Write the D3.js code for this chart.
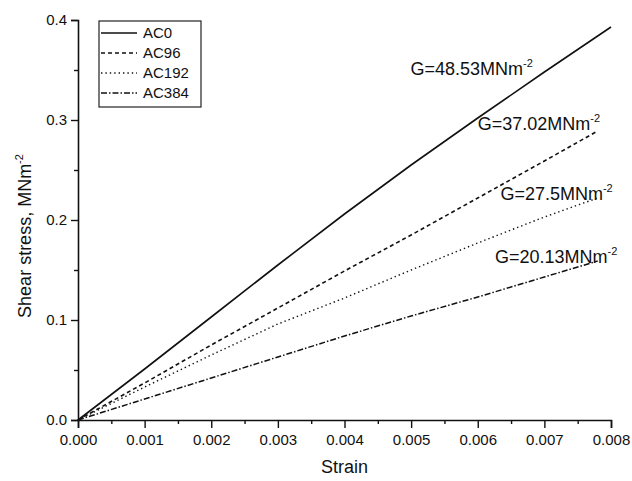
<!DOCTYPE html>
<html>
<head>
<meta charset="utf-8">
<script src="https://cdn.jsdelivr.net/npm/d3@7"></script>
<style>
  body { margin: 0; background: #fff; }
  text { font-family: Arial, "Liberation Sans", sans-serif; fill: #111; }
</style>
</head>
<body>
<div id="chart"></div>
<script>
const strainAC0 = [0, 0.001, 0.002, 0.003, 0.004, 0.005, 0.006, 0.007, 0.008]
const stressAC0 = [0, 0.051, 0.103, 0.155, 0.206, 0.255, 0.302, 0.348, 0.393]

const strainAC96 = [0, 0.001, 0.002, 0.003, 0.004, 0.005, 0.006, 0.007, 0.0078]
const stressAC96 = [0, 0.037, 0.075, 0.112, 0.149, 0.185, 0.222, 0.259, 0.289]

const strainAC192 = [0, 0.001, 0.002, 0.003, 0.004, 0.005, 0.006, 0.007, 0.0078]
const stressAC192 = [0, 0.033, 0.065, 0.096, 0.122, 0.150, 0.177, 0.203, 0.222]

const strainAC384 = [0, 0.001, 0.002, 0.003, 0.004, 0.005, 0.006, 0.007, 0.0078]
const stressAC384 = [0, 0.021, 0.042, 0.063, 0.084, 0.104, 0.123, 0.143, 0.159]

const seriesNames = ['AC0', 'AC96', 'AC192', 'AC384']
const modulusLabels = ['G=48.53MNm', 'G=37.02MNm', 'G=27.5MNm', 'G=20.13MNm']
const xTicks = [0, 0.001, 0.002, 0.003, 0.004, 0.005, 0.006, 0.007, 0.008]
const yTicks = [0, 0.1, 0.2, 0.3, 0.4]

const MARGIN = { TOP: 20, BOTTOM: 61, LEFT: 78, RIGHT: 21 }
const WIDTH = 632 - MARGIN.LEFT - MARGIN.RIGHT
const HEIGHT = 481 - MARGIN.TOP - MARGIN.BOTTOM

const dashes = ['none', '4,3', '1.4,3', '6,2,1.5,2']
const widths = [1.6, 1.6, 1.4, 1.5]

const series = [
    { name: seriesNames[0], x: strainAC0, y: stressAC0 },
    { name: seriesNames[1], x: strainAC96, y: stressAC96 },
    { name: seriesNames[2], x: strainAC192, y: stressAC192 },
    { name: seriesNames[3], x: strainAC384, y: stressAC384 },
]

const svg = d3.select('#chart')
    .append('svg')
    .attr('width', 632)
    .attr('height', 481)

const g = svg.append('g')
    .attr('transform', `translate(${MARGIN.LEFT}, ${MARGIN.TOP})`)

const x = d3.scaleLinear().domain([0, 0.008]).range([0, WIDTH])
const y = d3.scaleLinear().domain([0, 0.4]).range([HEIGHT, 0])

// minor ticks first, majors drawn over them
g.append('g')
    .attr('transform', `translate(0, ${HEIGHT})`)
    .call(d3.axisBottom(x).tickValues(d3.range(0.0005, 0.008, 0.001)).tickSize(4).tickFormat(''))
    .call(a => a.select('.domain').remove())
g.append('g')
    .call(d3.axisLeft(y).tickValues(d3.range(0.05, 0.4, 0.1)).tickSize(4).tickFormat(''))
    .call(a => a.select('.domain').remove())

const xAxis = g.append('g')
    .attr('transform', `translate(0, ${HEIGHT})`)
    .call(d3.axisBottom(x).tickValues(xTicks).tickSize(8).tickPadding(6).tickFormat(d3.format('.3f')))
const yAxis = g.append('g')
    .call(d3.axisLeft(y).tickValues(yTicks).tickSize(7).tickPadding(4).tickFormat(d3.format('.1f')))

g.selectAll('.domain').attr('stroke', '#111').attr('stroke-width', 1.6)
g.selectAll('.tick line').attr('stroke', '#111').attr('stroke-width', 1.4)
g.selectAll('.tick text').attr('font-size', 15).attr('fill', '#111')
    .attr('font-family', 'Arial, "Liberation Sans", sans-serif')

// axis titles
g.append('text')
    .attr('x', WIDTH / 2)
    .attr('y', HEIGHT + 53)
    .attr('font-size', 18)
    .attr('text-anchor', 'middle')
    .text('Strain')

const yTitle = g.append('text')
    .attr('transform', `translate(-47, ${HEIGHT / 2 + 16}) rotate(-90)`)
    .attr('font-size', 18)
    .attr('text-anchor', 'middle')
yTitle.append('tspan').text('Shear stress, MNm')
yTitle.append('tspan').attr('dy', -8).attr('font-size', 11).text('-2')

// curves
const line = d3.line()
    .x(d => x(d[0]))
    .y(d => y(d[1]))

g.selectAll('.curve')
    .data(series)
    .enter().append('path')
    .attr('class', 'curve')
    .attr('fill', 'none')
    .attr('stroke', '#111')
    .attr('stroke-width', (d, i) => widths[i])
    .attr('stroke-dasharray', (d, i) => dashes[i])
    .attr('d', d => line(d.x.map((v, i) => [v, d.y[i]])))

// modulus labels, placed near line ends
const labelPos = [
    { sx: 0.00499, sy: 0.345 },
    { sx: 0.006, sy: 0.290 },
    { sx: 0.00634, sy: 0.220 },
    { sx: 0.00626, sy: 0.157 },
]
modulusLabels.forEach((t, i) => {
    const txt = g.append('text')
        .attr('x', x(labelPos[i].sx))
        .attr('y', y(labelPos[i].sy))
        .attr('font-size', 18)
    txt.append('tspan').text(t)
    txt.append('tspan').attr('dy', -8).attr('font-size', 11).text('-2')
})

// legend
const legend = svg.append('g').attr('transform', 'translate(99, 21)')
legend.append('rect')
    .attr('width', 102)
    .attr('height', 86)
    .attr('fill', '#fff')
    .attr('stroke', '#222')
    .attr('stroke-width', 1.2)

series.forEach((s, i) => {
    const ly = 12 + i * 20
    legend.append('line')
        .attr('x1', 2).attr('x2', 38)
        .attr('y1', ly).attr('y2', ly)
        .attr('stroke', '#111')
        .attr('stroke-width', widths[i])
        .attr('stroke-dasharray', dashes[i])
    legend.append('text')
        .attr('x', 44)
        .attr('y', ly + 5)
        .attr('font-size', 15)
        .text(s.name)
})
</script>
</body>
</html>
